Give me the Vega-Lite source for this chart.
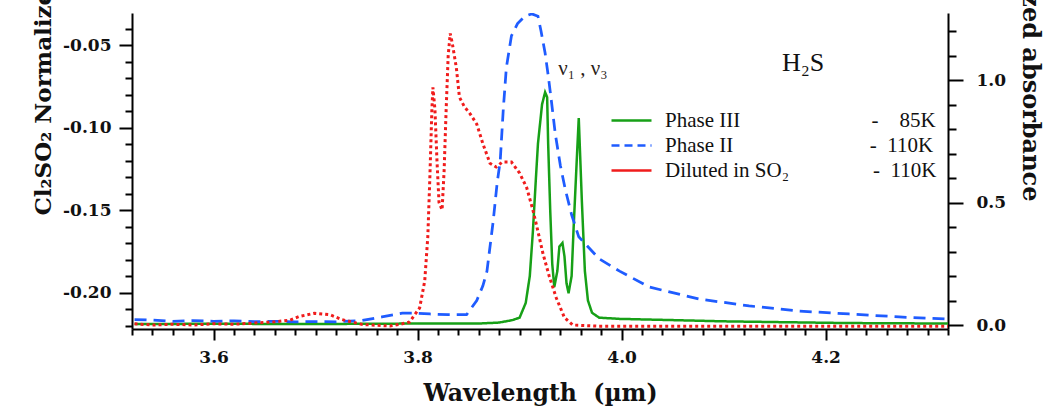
{
  "$schema": "https://vega.github.io/schema/vega-lite/v6.json",
  "width": 816,
  "height": 316,
  "autosize": {"type": "none"},
  "padding": {"left": 132, "top": 13, "right": 98, "bottom": 79},
  "background": "white",
  "config": {
    "view": {"stroke": null},
    "axis": {
      "grid": false,
      "domainColor": "#000",
      "domainWidth": 2,
      "tickColor": "#000",
      "tickWidth": 2,
      "labelFont": "DejaVu Serif",
      "labelFontWeight": "bold",
      "labelFontSize": 17,
      "labelColor": "#111",
      "titleFont": "DejaVu Serif",
      "titleFontWeight": "bold",
      "titleFontSize": 23,
      "titleColor": "#111"
    }
  },
  "datasets": {
    "series": [
      {"s": "Phase III", "k": "III"},
      {"s": "Phase II", "k": "II"},
      {"s": "Diluted in SO₂", "k": "SO2"}
    ],
    "curves": [
      {"s": "Phase III", "w": 3.5225, "a": 0.004},
      {"s": "Phase III", "w": 3.6, "a": 0.005},
      {"s": "Phase III", "w": 3.7, "a": 0.004},
      {"s": "Phase III", "w": 3.8, "a": 0.006},
      {"s": "Phase III", "w": 3.86, "a": 0.006},
      {"s": "Phase III", "w": 3.88, "a": 0.01},
      {"s": "Phase III", "w": 3.893, "a": 0.02},
      {"s": "Phase III", "w": 3.9, "a": 0.03},
      {"s": "Phase III", "w": 3.906, "a": 0.09},
      {"s": "Phase III", "w": 3.91, "a": 0.2},
      {"s": "Phase III", "w": 3.913, "a": 0.38},
      {"s": "Phase III", "w": 3.916, "a": 0.6},
      {"s": "Phase III", "w": 3.918, "a": 0.74},
      {"s": "Phase III", "w": 3.922, "a": 0.9},
      {"s": "Phase III", "w": 3.925, "a": 0.95},
      {"s": "Phase III", "w": 3.927, "a": 0.93},
      {"s": "Phase III", "w": 3.928, "a": 0.74},
      {"s": "Phase III", "w": 3.93, "a": 0.47},
      {"s": "Phase III", "w": 3.932, "a": 0.25},
      {"s": "Phase III", "w": 3.934, "a": 0.155},
      {"s": "Phase III", "w": 3.937, "a": 0.22},
      {"s": "Phase III", "w": 3.939, "a": 0.32},
      {"s": "Phase III", "w": 3.942, "a": 0.335},
      {"s": "Phase III", "w": 3.944, "a": 0.28},
      {"s": "Phase III", "w": 3.946, "a": 0.17},
      {"s": "Phase III", "w": 3.948, "a": 0.13},
      {"s": "Phase III", "w": 3.951, "a": 0.2},
      {"s": "Phase III", "w": 3.953, "a": 0.4},
      {"s": "Phase III", "w": 3.956, "a": 0.67},
      {"s": "Phase III", "w": 3.958, "a": 0.845},
      {"s": "Phase III", "w": 3.961, "a": 0.51},
      {"s": "Phase III", "w": 3.964, "a": 0.22},
      {"s": "Phase III", "w": 3.967, "a": 0.1},
      {"s": "Phase III", "w": 3.971, "a": 0.05},
      {"s": "Phase III", "w": 3.978, "a": 0.03},
      {"s": "Phase III", "w": 3.998, "a": 0.025},
      {"s": "Phase III", "w": 4.05, "a": 0.02},
      {"s": "Phase III", "w": 4.1, "a": 0.015},
      {"s": "Phase III", "w": 4.15, "a": 0.012},
      {"s": "Phase III", "w": 4.22, "a": 0.008},
      {"s": "Phase III", "w": 4.32, "a": 0.006},

      {"s": "Phase II", "w": 3.5225, "a": 0.022},
      {"s": "Phase II", "w": 3.54, "a": 0.02},
      {"s": "Phase II", "w": 3.56, "a": 0.015},
      {"s": "Phase II", "w": 3.58, "a": 0.018},
      {"s": "Phase II", "w": 3.6, "a": 0.015},
      {"s": "Phase II", "w": 3.62, "a": 0.017},
      {"s": "Phase II", "w": 3.64, "a": 0.014},
      {"s": "Phase II", "w": 3.66, "a": 0.015},
      {"s": "Phase II", "w": 3.68, "a": 0.013},
      {"s": "Phase II", "w": 3.7, "a": 0.014},
      {"s": "Phase II", "w": 3.72, "a": 0.013},
      {"s": "Phase II", "w": 3.745, "a": 0.018},
      {"s": "Phase II", "w": 3.765, "a": 0.033},
      {"s": "Phase II", "w": 3.785, "a": 0.048},
      {"s": "Phase II", "w": 3.8, "a": 0.048},
      {"s": "Phase II", "w": 3.812, "a": 0.045},
      {"s": "Phase II", "w": 3.83, "a": 0.042},
      {"s": "Phase II", "w": 3.848, "a": 0.042},
      {"s": "Phase II", "w": 3.858, "a": 0.1},
      {"s": "Phase II", "w": 3.864, "a": 0.16},
      {"s": "Phase II", "w": 3.868, "a": 0.22},
      {"s": "Phase II", "w": 3.874, "a": 0.42},
      {"s": "Phase II", "w": 3.878, "a": 0.58},
      {"s": "Phase II", "w": 3.881, "a": 0.67},
      {"s": "Phase II", "w": 3.884, "a": 0.88},
      {"s": "Phase II", "w": 3.887, "a": 1.05},
      {"s": "Phase II", "w": 3.892, "a": 1.18},
      {"s": "Phase II", "w": 3.898, "a": 1.23},
      {"s": "Phase II", "w": 3.905, "a": 1.26},
      {"s": "Phase II", "w": 3.912, "a": 1.27},
      {"s": "Phase II", "w": 3.918, "a": 1.26},
      {"s": "Phase II", "w": 3.921, "a": 1.2},
      {"s": "Phase II", "w": 3.925, "a": 1.11},
      {"s": "Phase II", "w": 3.928, "a": 1.02},
      {"s": "Phase II", "w": 3.931, "a": 0.92},
      {"s": "Phase II", "w": 3.935, "a": 0.78},
      {"s": "Phase II", "w": 3.94, "a": 0.65},
      {"s": "Phase II", "w": 3.945, "a": 0.55},
      {"s": "Phase II", "w": 3.951, "a": 0.45},
      {"s": "Phase II", "w": 3.958, "a": 0.36},
      {"s": "Phase II", "w": 3.978, "a": 0.27},
      {"s": "Phase II", "w": 3.998, "a": 0.22},
      {"s": "Phase II", "w": 4.027, "a": 0.155},
      {"s": "Phase II", "w": 4.076, "a": 0.106},
      {"s": "Phase II", "w": 4.125, "a": 0.078},
      {"s": "Phase II", "w": 4.174, "a": 0.057},
      {"s": "Phase II", "w": 4.223, "a": 0.045},
      {"s": "Phase II", "w": 4.272, "a": 0.033},
      {"s": "Phase II", "w": 4.32, "a": 0.024},

      {"s": "Diluted in SO₂", "w": 3.5225, "a": 0.005},
      {"s": "Diluted in SO₂", "w": 3.54, "a": 0.0},
      {"s": "Diluted in SO₂", "w": 3.56, "a": 0.003},
      {"s": "Diluted in SO₂", "w": 3.58, "a": 0.0},
      {"s": "Diluted in SO₂", "w": 3.6, "a": 0.005},
      {"s": "Diluted in SO₂", "w": 3.62, "a": 0.003},
      {"s": "Diluted in SO₂", "w": 3.64, "a": 0.008},
      {"s": "Diluted in SO₂", "w": 3.66, "a": 0.013},
      {"s": "Diluted in SO₂", "w": 3.675, "a": 0.02},
      {"s": "Diluted in SO₂", "w": 3.684, "a": 0.035},
      {"s": "Diluted in SO₂", "w": 3.699, "a": 0.048},
      {"s": "Diluted in SO₂", "w": 3.714, "a": 0.042},
      {"s": "Diluted in SO₂", "w": 3.726, "a": 0.022},
      {"s": "Diluted in SO₂", "w": 3.746, "a": 0.002},
      {"s": "Diluted in SO₂", "w": 3.773, "a": -0.004},
      {"s": "Diluted in SO₂", "w": 3.785, "a": 0.005},
      {"s": "Diluted in SO₂", "w": 3.792, "a": 0.012},
      {"s": "Diluted in SO₂", "w": 3.802, "a": 0.07},
      {"s": "Diluted in SO₂", "w": 3.807, "a": 0.18},
      {"s": "Diluted in SO₂", "w": 3.81, "a": 0.36},
      {"s": "Diluted in SO₂", "w": 3.812, "a": 0.6},
      {"s": "Diluted in SO₂", "w": 3.814, "a": 0.88},
      {"s": "Diluted in SO₂", "w": 3.815, "a": 0.97},
      {"s": "Diluted in SO₂", "w": 3.817, "a": 0.88},
      {"s": "Diluted in SO₂", "w": 3.819, "a": 0.67},
      {"s": "Diluted in SO₂", "w": 3.821, "a": 0.5},
      {"s": "Diluted in SO₂", "w": 3.824, "a": 0.47},
      {"s": "Diluted in SO₂", "w": 3.826, "a": 0.63},
      {"s": "Diluted in SO₂", "w": 3.828, "a": 0.88},
      {"s": "Diluted in SO₂", "w": 3.83, "a": 1.1},
      {"s": "Diluted in SO₂", "w": 3.832, "a": 1.19},
      {"s": "Diluted in SO₂", "w": 3.834, "a": 1.15},
      {"s": "Diluted in SO₂", "w": 3.838, "a": 1.05},
      {"s": "Diluted in SO₂", "w": 3.841, "a": 0.93},
      {"s": "Diluted in SO₂", "w": 3.846, "a": 0.89},
      {"s": "Diluted in SO₂", "w": 3.851, "a": 0.865},
      {"s": "Diluted in SO₂", "w": 3.858, "a": 0.82},
      {"s": "Diluted in SO₂", "w": 3.864, "a": 0.74},
      {"s": "Diluted in SO₂", "w": 3.871, "a": 0.66},
      {"s": "Diluted in SO₂", "w": 3.877, "a": 0.645},
      {"s": "Diluted in SO₂", "w": 3.883, "a": 0.665},
      {"s": "Diluted in SO₂", "w": 3.892, "a": 0.665},
      {"s": "Diluted in SO₂", "w": 3.9, "a": 0.62},
      {"s": "Diluted in SO₂", "w": 3.907, "a": 0.56},
      {"s": "Diluted in SO₂", "w": 3.913, "a": 0.47},
      {"s": "Diluted in SO₂", "w": 3.917, "a": 0.4},
      {"s": "Diluted in SO₂", "w": 3.923, "a": 0.29},
      {"s": "Diluted in SO₂", "w": 3.929, "a": 0.2},
      {"s": "Diluted in SO₂", "w": 3.936, "a": 0.11},
      {"s": "Diluted in SO₂", "w": 3.944, "a": 0.03},
      {"s": "Diluted in SO₂", "w": 3.952, "a": 0.0},
      {"s": "Diluted in SO₂", "w": 3.978, "a": -0.005},
      {"s": "Diluted in SO₂", "w": 4.1, "a": -0.005},
      {"s": "Diluted in SO₂", "w": 4.32, "a": -0.005}
    ]
  },
  "layer": [
    {
      "layer": [
        {
          "mark": {"type": "point", "opacity": 0},
          "encoding": {
            "y": {
              "datum": -0.1,
              "type": "quantitative",
              "scale": {"domain": [-0.2218, -0.0306], "nice": false, "zero": false},
              "axis": {
                "orient": "left",
                "values": [-0.2, -0.15, -0.1, -0.05],
                "labelExpr": "'-' + format(abs(datum.value), '.2f')",
                "tickSize": 13,
                "labelPadding": 8,
                "title": "Cl₂SO₂ Normalized absorbance",
                "titleAngle": -90,
                "titleAlign": "left",
                "titleBaseline": "alphabetic",
                "titleX": -82,
                "titleY": 202
              }
            }
          }
        },
        {
          "mark": {"type": "point", "opacity": 0},
          "encoding": {
            "y": {
              "datum": -0.1,
              "type": "quantitative",
              "scale": {"domain": [-0.2218, -0.0306], "nice": false, "zero": false},
              "axis": {
                "orient": "left",
                "values": [-0.22, -0.21, -0.19, -0.18, -0.17, -0.16, -0.14, -0.13, -0.12, -0.11, -0.09, -0.08, -0.07, -0.06, -0.04],
                "labels": false,
                "domain": false,
                "tickSize": 7,
                "title": null
              }
            }
          }
        }
      ],
      "resolve": {"axis": {"y": "independent"}}
    },
    {
      "layer": [
        {
          "data": {"name": "curves"},
          "transform": [
            {"lookup": "s", "from": {"data": {"name": "series"}, "key": "s", "fields": ["k"]}}
          ],
          "mark": {"type": "line", "clip": true},
          "encoding": {
            "x": {
              "field": "w",
              "type": "quantitative",
              "scale": {"domain": [3.52, 4.32], "nice": false, "zero": false},
              "axis": {
                "orient": "bottom",
                "values": [3.6, 3.8, 4.0, 4.2],
                "format": ".1f",
                "tickSize": 11,
                "labelPadding": 9,
                "title": "Wavelength\u00a0\u00a0(µm)",
                "titleFontSize": 23.5,
                "titleBaseline": "alphabetic",
                "titleY": 71
              }
            },
            "y": {
              "field": "a",
              "type": "quantitative",
              "scale": {"domain": [-0.0163, 1.2735], "nice": false, "zero": false},
              "axis": {
                "orient": "right",
                "values": [0, 0.5, 1],
                "format": ".1f",
                "tickSize": 15,
                "labelPadding": 13,
                "title": "Normalized absorbance",
                "titleFontSize": 24,
                "titleAngle": 90,
                "titleAlign": "right",
                "titleBaseline": "alphabetic",
                "titleX": 74,
                "titleY": 188
              }
            },
            "color": {
              "field": "s",
              "type": "nominal",
              "scale": {
                "domain": ["Phase III", "Phase II", "Diluted in SO₂"],
                "range": ["#17a017", "#1f5cff", "#f01c1c"]
              },
              "legend": {
                "orient": "none",
                "legendX": 488,
                "legendY": 96,
                "title": null,
                "padding": 0,
                "symbolType": "M-2,0H2",
                "symbolSize": 400,
                "symbolStrokeWidth": 2.5,
                "labelFont": "Liberation Serif",
                "labelFontSize": 21,
                "labelColor": "#111",
                "labelOffset": 22,
                "labelLimit": 600,
                "rowPadding": 3,
                "labelExpr": "datum.value == 'Phase III' ? 'Phase III\u00a0\u00a0\u00a0\u00a0\u00a0\u00a0\u00a0\u00a0\u00a0\u00a0\u00a0\u00a0\u00a0\u00a0\u00a0\u00a0\u00a0\u00a0\u00a0\u00a0\u00a0\u00a0\u00a0\u00a0\u00a0-\u00a0\u00a0\u00a0\u00a085K' : datum.value == 'Phase II' ? 'Phase II\u00a0\u00a0\u00a0\u00a0\u00a0\u00a0\u00a0\u00a0\u00a0\u00a0\u00a0\u00a0\u00a0\u00a0\u00a0\u00a0\u00a0\u00a0\u00a0\u00a0\u00a0\u00a0\u00a0\u00a0\u00a0\u00a0-\u00a0\u00a0110K' : 'Diluted in SO₂\u00a0\u00a0\u00a0\u00a0\u00a0\u00a0\u00a0\u00a0\u00a0\u00a0\u00a0\u00a0\u00a0\u00a0\u00a0\u00a0-\u00a0\u00a0110K'",
                "encode": {
                  "symbols": {
                    "update": {
                      "strokeDash": {"signal": "datum.value === 'Phase II' ? [8, 5] : [1, 0]"}
                    }
                  }
                }
              }
            },
            "strokeDash": {
              "field": "k",
              "type": "nominal",
              "scale": {
                "domain": ["III", "II", "SO2"],
                "range": [[1, 0], [12, 7], [3, 3]]
              },
              "legend": null
            },
            "strokeWidth": {
              "field": "k",
              "type": "nominal",
              "scale": {
                "domain": ["III", "II", "SO2"],
                "range": [2.5, 3, 3.5]
              },
              "legend": null
            }
          }
        },
        {
          "mark": {"type": "point", "opacity": 0},
          "encoding": {
            "x": {
              "datum": 4.0,
              "type": "quantitative",
              "axis": {
                "orient": "bottom",
                "values": [3.52, 3.54, 3.56, 3.58, 3.62, 3.64, 3.66, 3.68, 3.7, 3.72, 3.74, 3.76, 3.78, 3.82, 3.84, 3.86, 3.88, 3.9, 3.92, 3.94, 3.96, 3.98, 4.02, 4.04, 4.06, 4.08, 4.1, 4.12, 4.14, 4.16, 4.18, 4.22, 4.24, 4.26, 4.28, 4.3, 4.32],
                "labels": false,
                "domain": false,
                "tickSize": 6,
                "title": null
              }
            },
            "y": {
              "datum": 0.5,
              "type": "quantitative",
              "axis": {
                "orient": "right",
                "values": [0.1, 0.2, 0.3, 0.4, 0.6, 0.7, 0.8, 0.9, 1.1, 1.2],
                "labels": false,
                "domain": false,
                "tickSize": 8,
                "title": null
              }
            }
          }
        },
        {
          "data": {"values": [{}]},
          "mark": {"type": "text", "font": "Liberation Serif", "fontSize": 26, "color": "#111", "align": "center", "baseline": "middle"},
          "encoding": {
            "x": {"datum": 4.178, "type": "quantitative", "axis": null},
            "y": {"datum": 1.069, "type": "quantitative", "axis": null},
            "text": {"value": "H₂S"}
          }
        },
        {
          "data": {"values": [{}]},
          "mark": {"type": "text", "font": "Liberation Serif", "fontSize": 21, "color": "#2a2218", "align": "center", "baseline": "middle"},
          "encoding": {
            "x": {"datum": 3.962, "type": "quantitative", "axis": null},
            "y": {"datum": 1.045, "type": "quantitative", "axis": null},
            "text": {"value": "ν₁ , ν₃"}
          }
        }
      ],
      "resolve": {"axis": {"x": "independent", "y": "independent"}}
    }
  ],
  "resolve": {
    "scale": {"y": "independent"},
    "axis": {"x": "independent", "y": "independent"}
  }
}
